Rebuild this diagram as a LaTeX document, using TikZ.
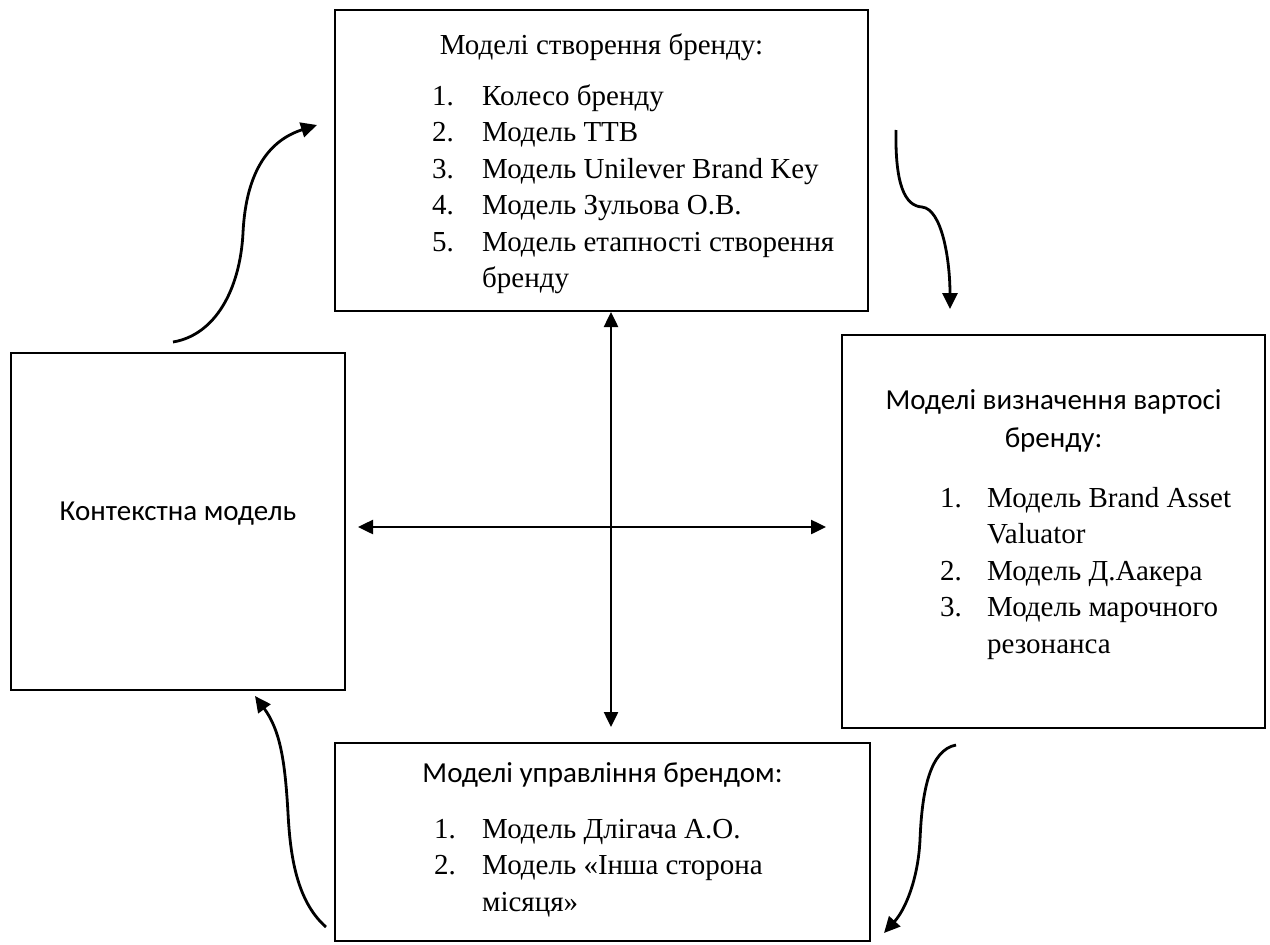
\documentclass[tikz,border=0pt]{standalone}
\usepackage{fontspec}
\setmainfont{Liberation Serif}
\newfontfamily\sansf{Carlito}
\usetikzlibrary{arrows.meta,calc}
\begin{document}
\begin{tikzpicture}[x=1pt,y=-1pt,
  box/.style={draw=black,line width=2pt,rectangle,inner sep=0pt},
  ser/.style={inner sep=0pt,anchor=base west,font=\fontsize{29}{36.6}\selectfont},
  sertitle/.style={inner sep=0pt,anchor=base,font=\fontsize{29}{36.6}\selectfont},
  santitle/.style={inner sep=0pt,anchor=base,font=\sansf\fontsize{29}{38}\selectfont},
  dbl/.style={line width=2.5pt,{Triangle[length=15pt,width=14pt]}-{Triangle[length=15pt,width=14pt]}},
  crv/.style={line width=2.8pt,-{Triangle[length=16pt,width=15pt]}}]
\useasboundingbox (0,0) rectangle (1270,945);
\fill[white] (0,0) rectangle (1270,945);

% boxes
\node[box,minimum width=533pt,minimum height=301pt] (top) at (601.5,160.5) {};
\node[box,minimum width=334pt,minimum height=337pt] (left) at (178,521.5) {};
\node[box,minimum width=423pt,minimum height=393pt] (right) at (1053.5,531.5) {};
\node[box,minimum width=535pt,minimum height=198pt] (bottom) at (602.5,842) {};

% top box text
\node[sertitle] (t0) at (601.5,54) {Моделі створення бренду:};
\node[ser] (t1n) at (432,105) {1.};
\node[ser] (t1) at (482,105) {Колесо бренду};
\node[ser] (t2n) at (432,141.5) {2.};
\node[ser] (t2) at (482,141.5) {Модель ТТВ};
\node[ser] (t3n) at (432,178) {3.};
\node[ser] (t3) at (482,178) {Модель Unilever Brand Key};
\node[ser] (t4n) at (432,214.5) {4.};
\node[ser] (t4) at (482,214.5) {Модель Зульова О.В.};
\node[ser] (t5n) at (432,251) {5.};
\node[ser] (t5) at (482,251) {Модель етапності створення};
\node[ser] (t5b) at (482,287.5) {бренду};

% left box text
\node[santitle] (l0) at (178,520) {Контекстна модель};

% right box text
\node[santitle] (r0) at (1053.5,409) {Моделі визначення вартосі};
\node[santitle] (r0b) at (1053.5,447) {бренду:};
\node[ser] (r1n) at (940,507) {1.};
\node[ser] (r1) at (987,507) {Модель Brand Asset};
\node[ser] (r1b) at (987,543.5) {Valuator};
\node[ser] (r2n) at (940,580) {2.};
\node[ser] (r2) at (987,580) {Модель Д.Аакера};
\node[ser] (r3n) at (940,616.5) {3.};
\node[ser] (r3) at (987,616.5) {Модель марочного};
\node[ser] (r3b) at (987,653) {резонанса};

% bottom box text
\node[santitle] (b0) at (602.5,782) {Моделі управління брендом:};
\node[ser] (b1n) at (434,838) {1.};
\node[ser] (b1) at (482,838) {Модель Длігача А.О.};
\node[ser] (b2n) at (434,874.5) {2.};
\node[ser] (b2) at (482,874.5) {Модель «Інша сторона};
\node[ser] (b2b) at (482,911) {місяця»};

% straight double arrows
\draw[dbl,shorten <=0pt,shorten >=15pt] ($(top.south)+(9.5,0)$) -- ($(bottom.north)+(8.5,0)$);
\draw[dbl,shorten <=12pt,shorten >=15pt] ($(left.east)+(0,5.5)$) -- ($(right.west)+(0,-4.5)$);

% curved arrows
\coordinate (c1s) at ($(left.north)+(-5,-10)$);
\coordinate (c1e) at ($(top.west)+(-17,-35.5)$);
\draw[crv] (c1s) .. controls (215,335) and (240,290) .. (243,233)
  .. controls (246,170) and (270,140) .. (c1e);

\coordinate (c2s) at ($(top.east)+(27,-30.5)$);
\coordinate (c2e) at ($(right.north)+(-103.5,-25)$);
\draw[crv] (c2s) .. controls (895,185) and (905,206) .. (922,207)
  .. controls (942,209) and (950,260) .. (c2e);

\coordinate (c3s) at ($(bottom.east)+(85,-97)$);
\coordinate (c3e) at ($(bottom.east)+(13,91)$);
\draw[crv] (c3s) .. controls (930,750) and (922,790) .. (920,840)
  .. controls (918,880) and (905,910) .. (c3e);

\coordinate (c4s) at ($(bottom.west)+(-8,85)$);
\coordinate (c4e) at ($(left.south)+(77,5)$);
\draw[crv] (c4s) .. controls (295,900) and (290,850) .. (288,813)
  .. controls (285,760) and (280,730) .. (c4e);
\end{tikzpicture}
\end{document}
